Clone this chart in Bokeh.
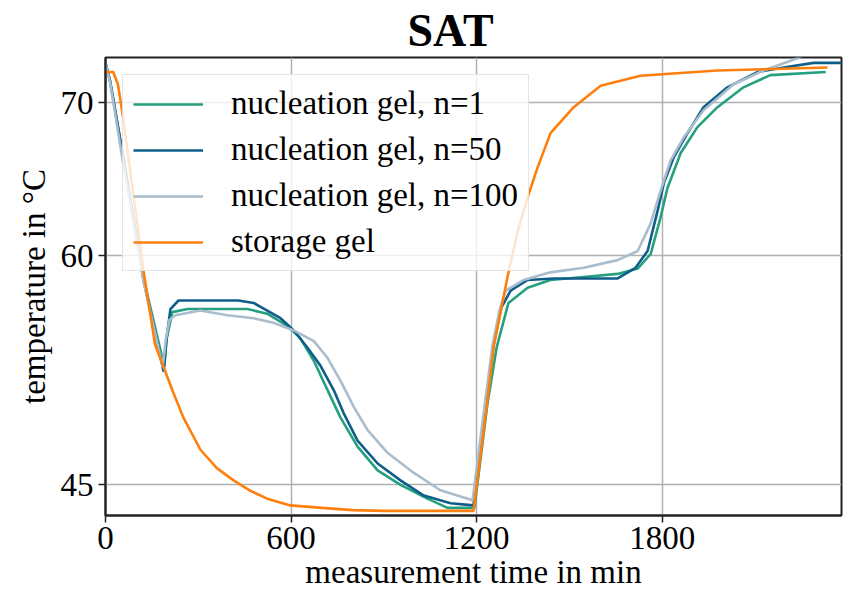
from bokeh.plotting import figure
from bokeh.models import FixedTicker, Legend, LegendItem, Range1d
from bokeh.embed import file_html
from bokeh.resources import INLINE

# ---- data ----
t_n1 = [0, 15, 55, 123, 190, 198, 216, 265, 459, 523, 588, 630, 674, 718, 760, 815, 880, 954,
        1041, 1106, 1193, 1235, 1265, 1303, 1365, 1439, 1546, 1656, 1721, 1763, 1795, 1817,
        1860, 1914, 1979, 2063, 2150, 2329]
T_n1 = [72.6, 71.4, 66.7, 58.5, 52.75, 54.6, 56.3, 56.5, 56.5, 56.2, 55.4, 54.6, 53.1, 51.2,
        49.4, 47.5, 45.95, 45.0, 44.1, 43.5, 43.5, 50.3, 54.0, 56.9, 57.9, 58.4, 58.6, 58.8,
        59.15, 60.1, 62.5, 64.4, 66.7, 68.4, 69.7, 71.0, 71.8, 72.0]

t_n50 = [0, 15, 55, 123, 188, 197, 210, 236, 430, 479, 523, 566, 609, 652, 695, 738, 770, 815,
         880, 954, 1029, 1116, 1190, 1230, 1255, 1280, 1310, 1365, 1450, 1656, 1714, 1753,
         1785, 1805, 1837, 1882, 1934, 2011, 2109, 2193, 2290, 2380]
T_n50 = [72.6, 71.4, 66.7, 58.4, 52.4, 54.5, 56.5, 57.06, 57.06, 56.9, 56.4, 55.9, 55.1, 54.0,
         52.8, 51.2, 49.7, 47.9, 46.4, 45.3, 44.3, 43.8, 43.66, 50.5, 54.2, 56.6, 57.7, 58.4,
         58.5, 58.5, 59.2, 60.3, 62.9, 64.7, 66.4, 68.0, 69.7, 71.0, 72.0, 72.3, 72.6, 72.6]

t_n100 = [0, 15, 55, 123, 185, 195, 207, 226, 307, 394, 479, 543, 609, 674, 718, 760, 803, 847,
          912, 996, 1083, 1187, 1228, 1252, 1275, 1294, 1352, 1439, 1546, 1656, 1721, 1763,
          1795, 1827, 1869, 1934, 2031, 2128, 2238, 2270]
T_n100 = [72.6, 71.3, 66.3, 58.3, 52.7, 54.5, 55.8, 56.1, 56.4, 56.1, 55.9, 55.6, 55.1, 54.4,
          53.3, 51.8, 50.1, 48.6, 47.1, 45.8, 44.65, 44.0, 50.5, 54.2, 56.5, 57.7, 58.4, 58.9,
          59.2, 59.7, 60.3, 62.1, 64.25, 66.2, 67.7, 69.5, 71.2, 72.1, 72.9, 73.3]

t_storage = [0, 25, 40, 55, 90, 123, 160, 188, 220, 252, 307, 360, 414, 470, 523, 598, 700, 800,
             900, 1190, 1232, 1255, 1300, 1333, 1365, 1397, 1439, 1514, 1601, 1730, 1979, 2335]
T_storage = [72.0, 72.0, 71.2, 69.3, 64.0, 59.0, 54.2, 52.7, 51.0, 49.4, 47.3, 46.1, 45.3, 44.6,
             44.1, 43.66, 43.5, 43.35, 43.3, 43.3, 50.0, 54.0, 58.6, 61.6, 63.8, 65.75, 68.0,
             69.7, 71.1, 71.76, 72.1, 72.3]

labels = ["nucleation gel, n=1", "nucleation gel, n=50", "nucleation gel, n=100", "storage gel"]
colors = ["#24a07f", "#0e5e89", "#a9bdcc", "#ff7f0e"]
x_ticks = [0, 600, 1200, 1800]
y_ticks = [45, 60, 70]

FONT = "Liberation Serif"

p = figure(width=843, height=593, output_backend="svg", toolbar_location=None,
           x_range=Range1d(0, 2380), y_range=Range1d(43.0, 72.95),
           min_border_left=105, min_border_right=2, min_border_top=57, min_border_bottom=78)

p.title.text = "SAT"
p.title.text_font = FONT
p.title.text_font_size = "46px"
p.title.text_font_style = "bold"
p.title.text_color = "#000000"
p.title.align = "left"
p.title.offset = 302
p.title.standoff = 0
p.title.vertical_align = "top"

series = [(t_n1, T_n1), (t_n50, T_n50), (t_n100, T_n100), (t_storage, T_storage)]
renderers = []
for (tx, ty), c in zip(series, colors):
    r = p.line(tx, ty, line_color=c, line_width=2.6)
    renderers.append(r)

for ax in (p.xaxis, p.yaxis):
    ax.axis_line_color = "#222222"
    ax.axis_line_width = 2
    ax.major_tick_line_color = "#222222"
    ax.major_tick_line_width = 1.5
    ax.major_tick_out = 7
    ax.major_tick_in = 0
    ax.minor_tick_line_color = None
    ax.major_label_text_font = FONT
    ax.major_label_text_font_size = "33px"
    ax.major_label_text_color = "#000000"
    ax.axis_label_text_font = FONT
    ax.axis_label_text_font_size = "33px"
    ax.axis_label_text_font_style = "normal"
    ax.axis_label_text_color = "#000000"

p.xaxis.ticker = FixedTicker(ticks=x_ticks)
p.yaxis.ticker = FixedTicker(ticks=y_ticks)
p.xaxis.axis_label = "measurement time in min"
p.yaxis.axis_label = "temperature in °C"
p.xaxis.major_label_standoff = 4
p.xaxis.axis_label_standoff = 2
p.yaxis.major_label_standoff = 5
p.yaxis.axis_label_standoff = 6

p.xgrid.ticker = FixedTicker(ticks=x_ticks)
p.ygrid.ticker = FixedTicker(ticks=y_ticks)
p.grid.grid_line_color = "#b0b0b0"
p.grid.grid_line_width = 1.5

p.outline_line_color = "#222222"
p.outline_line_width = 2
p.background_fill_color = "white"
p.border_fill_color = "white"

legend = Legend(items=[LegendItem(label=l, renderers=[r]) for l, r in zip(labels, renderers)],
                location="top_left", margin=17, padding=10, spacing=9,
                glyph_width=70, glyph_height=30, label_standoff=28,
                label_text_font=FONT, label_text_font_size="33px", label_text_color="#000000",
                border_line_color="#cccccc", border_line_width=1.5,
                background_fill_color="white", background_fill_alpha=0.8)
p.add_layout(legend)

open("out.html", "w").write(file_html(p, INLINE))
